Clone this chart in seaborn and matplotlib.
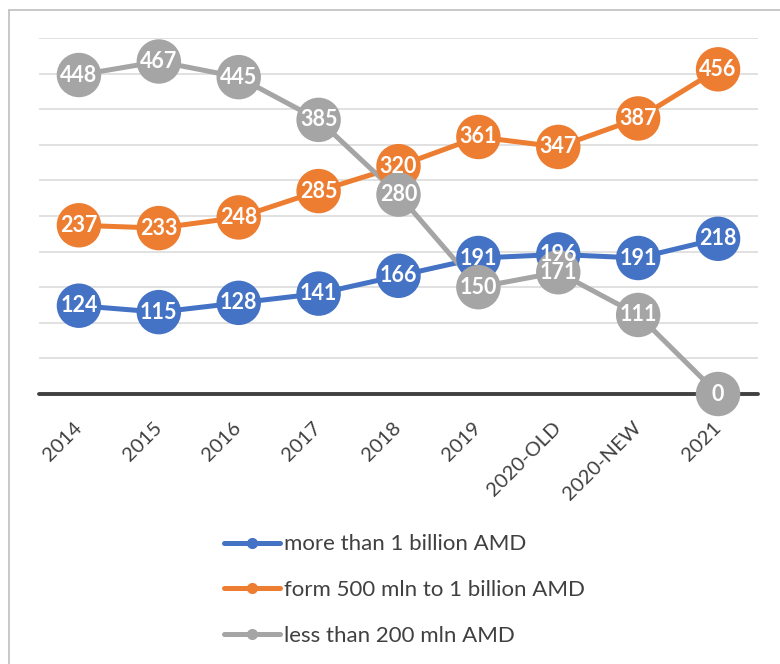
import pandas as pd
import seaborn as sns
import matplotlib.pyplot as plt
from matplotlib.lines import Line2D

# Chart data
years = ["2014", "2015", "2016", "2017", "2018", "2019", "2020-OLD", "2020-NEW", "2021"]
over_1bn = [124, 115, 128, 141, 166, 191, 196, 191, 218]
from_500mln = [237, 233, 248, 285, 320, 361, 347, 387, 456]
under_200mln = [448, 467, 445, 385, 280, 150, 171, 111, 0]
series_names = ["more than 1 billion AMD", "form 500 mln to 1 billion AMD", "less than 200 mln AMD"]
colors = ["#4472C4", "#ED7D31", "#A5A5A5"]

# Long format for seaborn
frames = []
for name, vals in zip(series_names, [over_1bn, from_500mln, under_200mln]):
    frames.append(pd.DataFrame({"year": years, "value": vals, "series": name}))
df = pd.concat(frames, ignore_index=True)
df["pos"] = df["year"].map({y: i for i, y in enumerate(years)})

sns.set_theme(style="white")
plt.rcParams["font.family"] = ["Lato", "DejaVu Sans"]

fig = plt.figure(figsize=(7.8, 6.64), dpi=100)
ax = fig.add_axes([39 / 780, 1 - 394 / 664, (758 - 39) / 780, (394 - 38) / 664])
palette = dict(zip(series_names, colors))

# Lines first, then the big circle markers, then labels (like Excel)
sns.lineplot(data=df, x="pos", y="value", hue="series", palette=palette,
             linewidth=3.6, sort=False, legend=False, ax=ax, zorder=3)
sns.scatterplot(data=df, x="pos", y="value", hue="series", palette=palette,
                s=32 ** 2, linewidth=0, legend=False, ax=ax, zorder=4, clip_on=False)

for _, row in df.iterrows():
    ax.text(row["pos"], row["value"], f"{row['value']}", ha="center", va="center",
            color="white", fontsize=15.5, fontweight="bold", zorder=6)

ax.set_xlim(-0.5, 8.5)
ax.set_ylim(0, 500)
ax.set_yticks(range(0, 501, 50))
ax.yaxis.grid(True, color="#D9D9D9", linewidth=1.1)
ax.xaxis.grid(False)
ax.set_yticklabels([])
ax.tick_params(axis="y", length=0)
for s in ax.spines.values():
    s.set_visible(False)
ax.axhline(0, color="#404040", linewidth=2.8, zorder=2, clip_on=False)

ax.set_xticks(range(len(years)))
ax.set_xticklabels(years, rotation=45, ha="right", va="center",
                   rotation_mode="anchor", color="#404040", fontsize=14.5)
ax.tick_params(axis="x", length=0, pad=22)
ax.set_xlabel("")
ax.set_ylabel("")

# Legend below the plot
handles = [Line2D([0], [0], color=c, lw=3.6, marker="o", markersize=7) for c in colors]
fig.legend(handles, series_names, loc="center left", bbox_to_anchor=(224 / 780, 1 - 590 / 664),
           frameon=False, fontsize=16, handlelength=2.5, handletextpad=0.18,
           labelspacing=1.15, borderpad=0, borderaxespad=0, labelcolor="#404040")

# Outer chart border (top and left edges visible)
fig.add_artist(Line2D([9 / 780, 9 / 780], [0, 1 - 9.5 / 664], color="#BFBFBF", lw=1.2))
fig.add_artist(Line2D([9 / 780, 1], [1 - 9.5 / 664, 1 - 9.5 / 664], color="#BFBFBF", lw=1.2))

fig.savefig("out.png", dpi=100)
